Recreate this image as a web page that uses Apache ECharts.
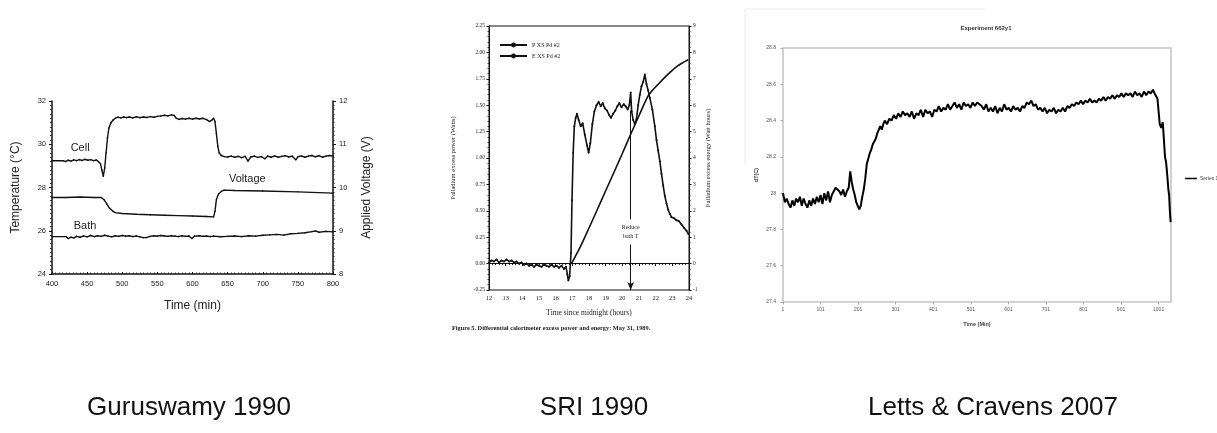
<!DOCTYPE html>
<html>
<head>
<meta charset="utf-8">
<script src="https://cdn.jsdelivr.net/npm/echarts@6/dist/echarts.min.js"></script>
<style>
html,body{margin:0;padding:0;background:#fff;}
#main{width:1217px;height:433px;}
</style>
</head>
<body>
<div id="main"></div>
<script>
// ---------- Panel 1: Guruswamy 1990 (time in min) ----------
const cellTemp = [[400,29.24],[416,29.24],[419,29.2],[423,29.26],[427,29.22],[431,29.28],[435,29.24],[439,29.29],[443,29.25],[447,29.3],[451,29.26],[455,29.29],[459,29.24],[463,29.27],[466,29.2],[469,29.1],[471,28.8],[473,28.52],[475,28.9],[477,29.6],[479,30.3],[481,30.75],[484,31.0],[487,31.12],[490,31.2],[494,31.25],[498,31.22],[502,31.26],[506,31.23],[510,31.26],[515,31.22],[520,31.27],[525,31.23],[530,31.26],[535,31.24],[540,31.28],[545,31.25],[550,31.29],[555,31.31],[560,31.34],[565,31.31],[570,31.36],[574,31.33],[577,31.2],[581,31.15],[585,31.19],[590,31.16],[595,31.2],[600,31.16],[605,31.2],[610,31.17],[615,31.2],[620,31.14],[624,31.05],[627,31.1],[630,31.2],[632,31.05],[634,30.5],[636,29.9],[638,29.6],[641,29.48],[645,29.43],[650,29.41],[655,29.45],[660,29.4],[665,29.44],[670,29.38],[675,29.44],[679,29.22],[683,29.41],[688,29.45],[693,29.39],[698,29.43],[703,29.33],[707,29.45],[712,29.4],[717,29.46],[722,29.4],[727,29.44],[732,29.47],[737,29.41],[742,29.45],[747,29.28],[750,29.42],[755,29.46],[760,29.4],[765,29.45],[770,29.48],[775,29.42],[780,29.47],[785,29.4],[790,29.45],[795,29.48],[800,29.45]];
const bathTemp = [[400,25.73],[420,25.73],[423,25.64],[427,25.7],[431,25.67],[435,25.74],[440,25.7],[445,25.76],[450,25.72],[455,25.78],[460,25.73],[465,25.77],[470,25.74],[475,25.79],[480,25.75],[485,25.72],[490,25.77],[495,25.74],[500,25.78],[505,25.75],[510,25.77],[515,25.73],[520,25.76],[525,25.72],[530,25.68],[535,25.69],[540,25.74],[545,25.77],[550,25.75],[555,25.78],[560,25.76],[565,25.74],[570,25.77],[575,25.75],[580,25.73],[585,25.77],[590,25.74],[595,25.76],[599,25.64],[603,25.75],[610,25.77],[615,25.74],[620,25.76],[625,25.73],[630,25.75],[640,25.72],[650,25.74],[660,25.76],[670,25.73],[680,25.77],[690,25.75],[700,25.79],[710,25.81],[720,25.83],[730,25.8],[740,25.86],[750,25.88],[760,25.91],[770,25.96],[775,25.99],[780,25.93],[790,25.97],[800,25.95]];
const appliedVoltage = [[400,9.77],[420,9.77],[440,9.78],[460,9.77],[470,9.77],[474,9.72],[478,9.62],[482,9.52],[486,9.46],[490,9.42],[500,9.4],[520,9.38],[540,9.37],[560,9.36],[580,9.35],[600,9.34],[620,9.33],[630,9.32],[632,9.45],[634,9.72],[637,9.85],[641,9.91],[645,9.94],[660,9.93],[700,9.92],[750,9.9],[800,9.87]];
const timeTicksMin = [400, 800, 50];
const tempTicks = [24, 32, 2];
const voltTicks = [8, 12, 1];

// ---------- Panel 2: SRI 1990 (time since midnight, hours) ----------
const excessPower = [[12.0,0.01],[12.15,0.03],[12.3,0.02],[12.45,0.04],[12.6,0.01],[12.75,0.03],[12.9,0.02],[13.05,0.04],[13.2,0.02],[13.35,0.03],[13.5,0.01],[13.65,0.02],[13.8,0.0],[13.95,0.01],[14.1,-0.01],[14.25,0.0],[14.4,-0.02],[14.55,-0.01],[14.7,-0.03],[14.85,-0.01],[15.0,-0.02],[15.15,-0.03],[15.3,-0.01],[15.45,-0.02],[15.6,-0.03],[15.75,-0.01],[15.9,-0.03],[16.05,-0.02],[16.2,-0.04],[16.35,-0.02],[16.5,-0.05],[16.62,-0.03],[16.7,-0.1],[16.76,-0.16],[16.84,-0.12],[16.92,0.1],[16.98,0.6],[17.05,1.05],[17.12,1.3],[17.2,1.38],[17.28,1.42],[17.38,1.36],[17.5,1.3],[17.62,1.33],[17.75,1.22],[17.88,1.12],[17.98,1.05],[18.08,1.14],[18.2,1.32],[18.32,1.44],[18.45,1.5],[18.58,1.53],[18.7,1.49],[18.82,1.52],[18.95,1.47],[19.08,1.45],[19.2,1.41],[19.32,1.38],[19.45,1.42],[19.58,1.45],[19.7,1.49],[19.82,1.52],[19.95,1.48],[20.08,1.51],[20.2,1.49],[20.32,1.46],[20.42,1.5],[20.5,1.62],[20.56,1.44],[20.65,1.36],[20.75,1.32],[20.85,1.37],[20.95,1.5],[21.05,1.6],[21.15,1.68],[21.25,1.72],[21.35,1.79],[21.45,1.7],[21.55,1.64],[21.65,1.57],[21.8,1.46],[21.95,1.3],[22.05,1.17],[22.15,1.07],[22.25,0.97],[22.35,0.85],[22.45,0.74],[22.55,0.64],[22.65,0.57],[22.75,0.51],[22.85,0.47],[22.95,0.44],[23.1,0.43],[23.25,0.41],[23.4,0.4],[23.55,0.37],[23.7,0.34],[23.85,0.31],[23.97,0.28]];
const excessEnergy = [[16.95,0],[17.5,0.66],[18.0,1.35],[18.5,2.05],[19.0,2.76],[19.5,3.46],[20.0,4.17],[20.5,4.9],[21.0,5.6],[21.5,6.3],[21.8,6.56],[22.1,6.76],[22.4,6.96],[22.7,7.15],[23.0,7.32],[23.3,7.48],[23.6,7.6],[23.95,7.72]];
const hourTicks = [12, 24, 1];
const powerTicks = [-0.25, 2.25, 0.25];
const energyTicks = [-1, 9, 1];

// ---------- Panel 3: Letts & Cravens 2007 ----------
const lettsDT = [[1,28.0],[6,27.95],[11,27.97],[16,27.94],[21,27.92],[26,27.96],[31,27.93],[36,27.97],[41,27.95],[46,27.98],[51,27.93],[56,27.97],[61,27.94],[66,27.92],[71,27.96],[76,27.93],[81,27.97],[86,27.94],[91,27.98],[96,27.95],[101,27.99],[106,27.94],[111,28.0],[116,27.96],[121,28.01],[126,27.95],[131,27.99],[136,28.0],[141,28.03],[146,28.04],[151,28.01],[156,27.99],[161,28.02],[166,27.98],[171,28.01],[176,28.03],[180,28.12],[184,28.06],[188,28.02],[192,27.99],[196,27.95],[200,27.93],[204,27.91],[208,27.93],[212,27.98],[216,28.02],[220,28.08],[224,28.16],[228,28.19],[232,28.22],[236,28.24],[240,28.27],[244,28.26],[248,28.3],[252,28.33],[256,28.34],[260,28.37],[264,28.35],[268,28.38],[272,28.4],[278,28.38],[284,28.41],[290,28.4],[296,28.43],[302,28.41],[308,28.44],[314,28.42],[320,28.45],[326,28.43],[332,28.44],[338,28.42],[344,28.45],[350,28.41],[356,28.44],[362,28.43],[368,28.46],[374,28.42],[380,28.46],[386,28.44],[392,28.45],[398,28.42],[404,28.46],[410,28.45],[416,28.48],[422,28.45],[428,28.47],[434,28.46],[440,28.49],[446,28.46],[452,28.48],[458,28.5],[464,28.47],[470,28.49],[476,28.46],[482,28.5],[488,28.48],[494,28.49],[500,28.47],[506,28.5],[512,28.48],[518,28.5],[524,28.49],[530,28.48],[536,28.46],[542,28.49],[548,28.45],[554,28.47],[560,28.45],[566,28.48],[572,28.44],[578,28.47],[584,28.45],[590,28.49],[596,28.46],[602,28.47],[608,28.45],[614,28.48],[620,28.46],[626,28.47],[632,28.45],[638,28.48],[644,28.47],[650,28.5],[656,28.49],[662,28.51],[668,28.48],[674,28.49],[680,28.46],[686,28.47],[692,28.45],[698,28.47],[704,28.44],[710,28.46],[716,28.45],[722,28.47],[728,28.44],[734,28.46],[740,28.45],[746,28.47],[752,28.45],[758,28.48],[764,28.47],[770,28.49],[776,28.48],[782,28.5],[788,28.49],[794,28.51],[800,28.49],[806,28.51],[812,28.5],[818,28.52],[824,28.5],[830,28.51],[836,28.5],[842,28.52],[848,28.51],[854,28.53],[860,28.51],[866,28.53],[872,28.52],[878,28.54],[884,28.52],[890,28.54],[896,28.53],[902,28.55],[908,28.53],[914,28.55],[920,28.54],[926,28.55],[932,28.53],[938,28.56],[944,28.54],[950,28.55],[956,28.53],[962,28.56],[968,28.54],[974,28.56],[980,28.55],[986,28.57],[990,28.55],[994,28.56],[998,28.52],[1001,28.45],[1004,28.38],[1008,28.36],[1012,28.39],[1015,28.3],[1018,28.2],[1021,28.17],[1024,28.1],[1027,28.02],[1029,27.99],[1031,27.9],[1033,27.84]];
const lettsTimeTicks = [1,101,201,301,401,501,601,701,801,901,1001];
const lettsDTTicks = [27.4, 28.8, 0.2];

// ---------- Texts ----------
const captions = ['Guruswamy 1990', 'SRI 1990', 'Letts & Cravens 2007'];
const sriFigureCaption = 'Figure 5. Differential calorimeter excess power and energy: May 31, 1989.';
const lettsTitle = 'Experiment 662y1';

const chart = echarts.init(document.getElementById('main'), null, {renderer:'canvas'});
const ink = '#222';
const serif = 'Liberation Serif, Times New Roman, serif';
const sans = 'Liberation Sans, Arial, sans-serif';

const option = {
  animation: false,
  backgroundColor: '#fff',
  title: [
    {text: captions[0], left: 184, top: 390, textAlign: 'center', textStyle:{fontFamily:sans, fontSize:26, fontWeight:'normal', color:'#111'}},
    {text: captions[1], left: 589, top: 390, textAlign: 'center', textStyle:{fontFamily:sans, fontSize:26, fontWeight:'normal', color:'#111'}},
    {text: captions[2], left: 988, top: 390, textAlign: 'center', textStyle:{fontFamily:sans, fontSize:26, fontWeight:'normal', color:'#111'}},
    {text: sriFigureCaption, left: 447, top: 320, textStyle:{fontFamily:serif, fontSize:6.3, fontWeight:'bold', color:'#222'}},
    {text: lettsTitle, left: 981, top: 20, textAlign:'center', textStyle:{fontFamily:sans, fontSize:6, fontWeight:'bold', color:'#333'}}
  ],
  graphic: [
    {type:'polyline', shape:{points:[[745,165],[745,9],[985,9]]}, style:{stroke:'#ececec', lineWidth:1, fill:null}, silent:true}
  ],
  legend: [
    {data:[{name:'P XS Pd #2'},{name:'E XS Pd #2'}], orient:'vertical', left:494, top:37, itemWidth:27, itemHeight:6, itemGap:5,
     textStyle:{fontFamily:serif, fontSize:6, color:'#222'}},
    {data:[{name:'Series 1', icon:'rect'}], left:1180, top:171, itemWidth:12, itemHeight:1.5, itemGap:2,
     textStyle:{fontFamily:sans, fontSize:5, color:'#444', padding:[0,0,0,-2]}}
  ],
  grid: [
    {left:52, top:101, width:281, height:173, show:false},
    {left:489, top:26, width:200, height:264, show:true, borderColor:'#111', borderWidth:1},
    {left:783, top:48, width:388, height:254, show:true, borderColor:'#c4c4c4', borderWidth:1.5}
  ],
  xAxis: [
    {gridIndex:0, type:'value', min:timeTicksMin[0], max:timeTicksMin[1], interval:timeTicksMin[2],
     name:'Time (min)', nameLocation:'middle', nameGap:26, nameTextStyle:{fontFamily:sans, fontSize:12, color:ink},
     axisLine:{lineStyle:{color:'#111', width:1.5}}, axisTick:{show:true, length:2, inside:true, lineStyle:{color:'#111'}},
     minorTick:{show:true, splitNumber:10, length:1.5, lineStyle:{color:'#333'}},
     axisLabel:{fontFamily:sans, fontSize:7.5, color:ink, margin:6}, splitLine:{show:false}},
    {gridIndex:1, type:'value', min:hourTicks[0], max:hourTicks[1], interval:hourTicks[2],
     name:'Time since midnight (hours)', nameLocation:'middle', nameGap:19, nameTextStyle:{fontFamily:serif, fontSize:7.5, color:ink},
     axisLine:{lineStyle:{color:'#111', width:1}}, axisTick:{show:true, length:2.5, lineStyle:{color:'#111'}},
     minorTick:{show:true, splitNumber:5, length:1.5, lineStyle:{color:'#333'}},
     axisLabel:{fontFamily:serif, fontSize:6.5, color:ink, margin:5}, splitLine:{show:false}},
    {gridIndex:2, type:'value', min:1, max:1034,
     name:'Time (Min)', nameLocation:'middle', nameGap:19, nameTextStyle:{fontFamily:sans, fontSize:5.5, fontWeight:'bold', color:'#444'},
     axisLine:{show:false}, axisTick:{show:true, length:2.5, customValues:lettsTimeTicks, lineStyle:{color:'#aaa'}},
     axisLabel:{fontFamily:sans, fontSize:5, color:'#555', margin:5, customValues:lettsTimeTicks, formatter:(v)=>String(v)}, splitLine:{show:false}}
  ],
  yAxis: [
    {gridIndex:0, type:'value', position:'left', min:tempTicks[0], max:tempTicks[1], interval:tempTicks[2],
     name:'Temperature (°C)', nameLocation:'middle', nameRotate:90, nameGap:30, nameTextStyle:{fontFamily:sans, fontSize:12, color:ink},
     axisLine:{show:true, lineStyle:{color:'#111', width:1.5}}, axisTick:{show:true, length:3, inside:false, lineStyle:{color:'#111'}},
     minorTick:{show:true, splitNumber:10, length:2, lineStyle:{color:'#333'}},
     axisLabel:{fontFamily:sans, fontSize:7.5, color:ink, margin:6}, splitLine:{show:false}},
    {gridIndex:0, type:'value', position:'right', min:voltTicks[0], max:voltTicks[1], interval:voltTicks[2],
     name:'Applied Voltage (V)', nameLocation:'middle', nameRotate:90, nameGap:28, nameTextStyle:{fontFamily:sans, fontSize:12, color:ink},
     axisLine:{show:true, lineStyle:{color:'#111', width:1.5}}, axisTick:{show:true, length:3, lineStyle:{color:'#111'}},
     minorTick:{show:true, splitNumber:10, length:1.5, lineStyle:{color:'#333'}},
     axisLabel:{fontFamily:sans, fontSize:7.5, color:ink, margin:6}, splitLine:{show:false}},
    {gridIndex:1, type:'value', position:'left', min:powerTicks[0], max:powerTicks[1], interval:powerTicks[2],
     name:'Palladium excess power (Watts)', nameLocation:'middle', nameRotate:90, nameGap:32, nameTextStyle:{fontFamily:serif, fontSize:6.5, color:ink},
     axisLine:{show:true, lineStyle:{color:'#111'}}, axisTick:{show:true, length:2.5, lineStyle:{color:'#111'}},
     minorTick:{show:true, splitNumber:5, length:1.5, lineStyle:{color:'#333'}},
     axisLabel:{fontFamily:serif, fontSize:5.5, color:ink, margin:4, formatter:(v)=>v.toFixed(2)}, splitLine:{show:false}},
    {gridIndex:1, type:'value', position:'right', min:energyTicks[0], max:energyTicks[1], interval:energyTicks[2],
     name:'Palladium excess energy (Watt hours)', nameLocation:'middle', nameRotate:90, nameGap:16, nameTextStyle:{fontFamily:serif, fontSize:6.5, color:ink},
     axisLine:{show:true, lineStyle:{color:'#111'}}, axisTick:{show:true, length:2.5, lineStyle:{color:'#111'}},
     minorTick:{show:true, splitNumber:5, length:1.5, lineStyle:{color:'#333'}},
     axisLabel:{fontFamily:serif, fontSize:5.5, color:ink, margin:4}, splitLine:{show:false}},
    {gridIndex:2, type:'value', position:'left', min:lettsDTTicks[0], max:lettsDTTicks[1], interval:lettsDTTicks[2],
     name:'dT(C)', nameLocation:'middle', nameRotate:90, nameGap:24, nameTextStyle:{fontFamily:sans, fontSize:5.5, fontWeight:'bold', color:'#444'},
     axisLine:{show:false}, axisTick:{show:true, length:2.5, lineStyle:{color:'#aaa'}},
     axisLabel:{fontFamily:sans, fontSize:5, color:'#555', margin:7, formatter:(v)=>String(parseFloat(v.toFixed(1)))}, splitLine:{show:false}}
  ],
  series: [
    {name:'Cell', type:'line', xAxisIndex:0, yAxisIndex:0, data:cellTemp, symbol:'circle', symbolSize:1.6, showSymbol:true,
     itemStyle:{color:'#111'}, lineStyle:{color:'#111', width:1.4},
     markPoint:{symbol:'circle', symbolSize:0, data:[{coord:[440,29.85], label:{show:true, formatter:'Cell', position:'inside', fontFamily:sans, fontSize:11, color:ink}}]}},
    {name:'Bath', type:'line', xAxisIndex:0, yAxisIndex:0, data:bathTemp, symbol:'circle', symbolSize:1.6, showSymbol:true,
     itemStyle:{color:'#111'}, lineStyle:{color:'#111', width:1.4},
     markPoint:{symbol:'circle', symbolSize:0, data:[{coord:[447,26.22], label:{show:true, formatter:'Bath', position:'inside', fontFamily:sans, fontSize:11, color:ink}}]}},
    {name:'Voltage', type:'line', xAxisIndex:0, yAxisIndex:1, data:appliedVoltage, symbol:'circle', symbolSize:1.4, showSymbol:true,
     itemStyle:{color:'#111'}, lineStyle:{color:'#111', width:1.4},
     markPoint:{symbol:'circle', symbolSize:0, data:[{coord:[678,10.19], label:{show:true, formatter:'Voltage', position:'inside', fontFamily:sans, fontSize:11, color:ink}}]}},
    {name:'P XS Pd #2', type:'line', xAxisIndex:1, yAxisIndex:2, data:excessPower, symbol:'circle', symbolSize:2, showSymbol:true,
     itemStyle:{color:'#111'}, lineStyle:{color:'#111', width:1.6},
     markLine:{silent:true, symbol:['none','none'], label:{show:false}, lineStyle:{color:'#111', width:1, type:'solid'},
       data:[
         {yAxis:0},
         [{coord:[20.5,1.45], symbol:'none'},{coord:[20.5,0.42], symbol:'none'}],
         [{coord:[20.5,0.18], symbol:'none'},{coord:[20.5,-0.25], symbol:'arrow', symbolSize:[5,8]}]
       ]},
     markPoint:{symbol:'circle', symbolSize:0, data:[{coord:[20.5,0.3], label:{show:true, formatter:'Reduce\nbath T', position:'inside', fontFamily:serif, fontSize:6, lineHeight:9, color:ink, backgroundColor:'#fff'}}]}},
    {name:'E XS Pd #2', type:'line', xAxisIndex:1, yAxisIndex:3, data:excessEnergy, symbol:'none', showSymbol:false, smooth:0.3,
     itemStyle:{color:'#111'}, lineStyle:{color:'#111', width:1.6}},
    {name:'Series 1', type:'line', xAxisIndex:2, yAxisIndex:4, data:lettsDT, symbol:'none', showSymbol:false,
     itemStyle:{color:'#000'}, lineStyle:{color:'#000', width:2}}
  ]
};
chart.setOption(option);
</script>
</body>
</html>
